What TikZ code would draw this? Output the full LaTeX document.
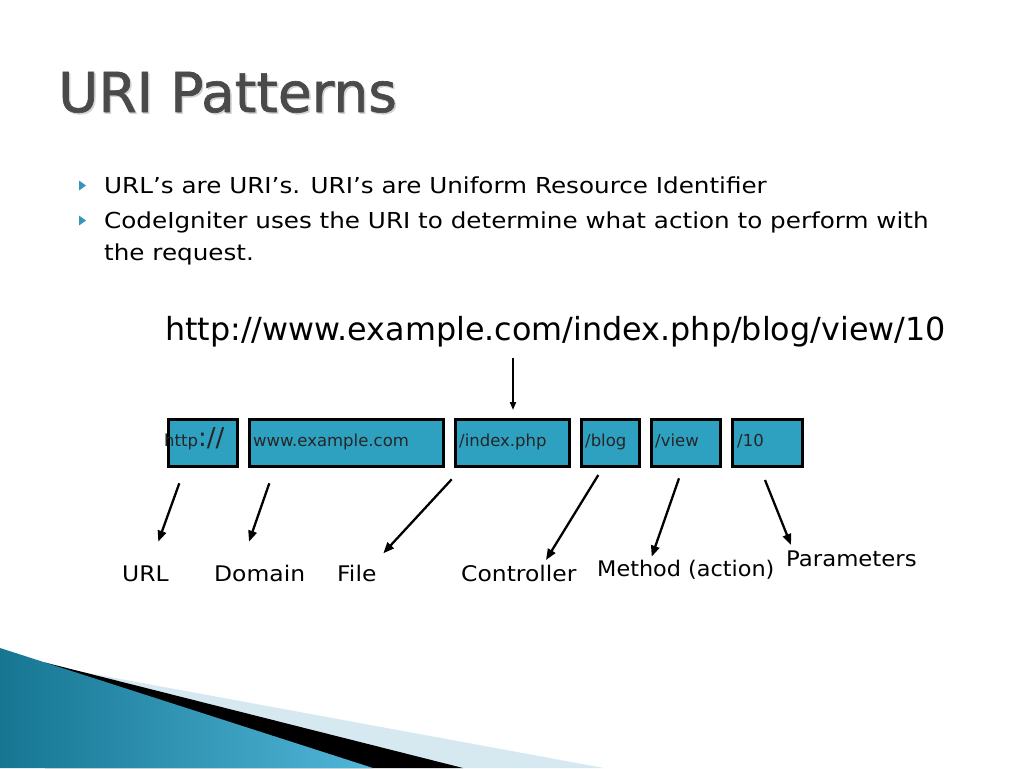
\documentclass[tikz,border=0pt]{standalone}
\usepackage{fontspec}
\setmainfont{DejaVu Sans}
\newfontfamily\titlefont{DejaVu Sans}[FakeBold=1.2]
\usepackage{graphicx}
\usetikzlibrary{arrows.meta}
\definecolor{boxblue}{RGB}{46,160,192}
\definecolor{bulletc}{RGB}{52,150,185}
\definecolor{titlec}{RGB}{74,74,74}
\definecolor{wedgedark}{RGB}{22,118,146}
\definecolor{wedgelight}{RGB}{80,182,216}
\definecolor{wedgepale}{RGB}{214,232,240}
\newcommand{\myxs}[2]{\scalebox{#1}[1]{#2}}
\begin{document}
\begin{tikzpicture}[x=1pt,y=-1pt,
  bodytxt/.style={anchor=base west, inner sep=0pt, text=black, font=\fontsize{22}{26}\selectfont},
  segbox/.style={draw=black, line width=3pt, fill=boxblue, inner sep=0pt, anchor=north west, minimum height=47pt},
  segtxt/.style={anchor=base west, inner sep=0pt, text=black!85, font=\fontsize{16.5}{20}\selectfont},
  pointer/.style={line width=2.3pt, -{Triangle[length=11pt,width=8.5pt]}},
  labtxt/.style={anchor=base west, inner sep=0pt, text=black, font=\fontsize{21.5}{26}\selectfont}]
\useasboundingbox (0,0) rectangle (1024,768);
\fill[white] (0,0) rectangle (1024,768);

% bottom-left decoration
\fill[wedgepale] (84,672.3) -- (604,768) -- (84,768) -- cycle;
\fill[black] (45,662.5) -- (463,768) -- (45,768) -- cycle;
\shade[left color=wedgedark, right color=wedgelight] (0,648) -- (373,768) -- (0,768) -- cycle;

% title
\node[anchor=base west, inner sep=0pt, text=white!65!gray, font=\titlefont\fontsize{55}{60}\selectfont] at (59.5,113.5) {URI Patterns};
\node[anchor=base west, inner sep=0pt, text=titlec, font=\titlefont\fontsize{55}{60}\selectfont] (title) at (58,112) {URI Patterns};

% bullets
\fill[bulletc] (79,180.5) -- (86,185.5) -- (79,190.5) -- cycle;
\fill[bulletc] (79,215.5) -- (86,220.5) -- (79,225.5) -- cycle;
\node[bodytxt] (l1) at (104,193) {\myxs{1.12}{URL’s are URI’s. URI’s are Uniform Resource Identifier}};
\node[bodytxt] (l2) at (104,228) {\myxs{1.12}{CodeIgniter uses the URI to determine what action to perform with}};
\node[bodytxt] (l3) at (104,260) {\myxs{1.12}{the request.}};

% URL
\node[anchor=base west, inner sep=0pt, text=black, font=\fontsize{31.8}{36}\selectfont] (url) at (165,340) {http://www.example.com/index.php/blog/view/10};
\coordinate (ds) at (513,358);
\coordinate (de) at (513,410);
\draw[line width=1.8pt, -{Triangle[length=8pt,width=6pt]}] (ds) -- (de);

% segment boxes
\node[segbox, minimum width=69pt] (b1) at (166.5,417.5) {};
\node[segbox, minimum width=194pt] (b2) at (247.5,417.5) {};
\node[segbox, minimum width=114pt] (b3) at (453.5,417.5) {};
\node[segbox, minimum width=58pt] (b4) at (579.5,417.5) {};
\node[segbox, minimum width=69pt] (b5) at (649.5,417.5) {};
\node[segbox, minimum width=70pt] (b6) at (730.5,417.5) {};

\node[segtxt] (t1) at (164,446) {http{\fontsize{26}{28}\selectfont://}};
\node[segtxt] (t2) at (253,446) {www.example.com};
\node[segtxt] (t3) at (459,446) {/index.php};
\node[segtxt] (t4) at (585,446) {/blog};
\node[segtxt] (t5) at (655,446) {/view};
\node[segtxt] (t6) at (737,446) {/10};

% labels
\node[labtxt] (n1) at (122,581.7) {\myxs{1.09}{URL}};
\node[labtxt] (n2) at (214,581.7) {\myxs{1.09}{Domain}};
\node[labtxt] (n3) at (337,581.7) {\myxs{1.09}{File}};
\node[labtxt] (n4) at (461,581.7) {\myxs{1.09}{Controller}};
\node[labtxt] (n5) at (597,576.7) {\myxs{1.04}{Method (action)}};
\node[labtxt] (n6) at (786,566.7) {\myxs{1.06}{Parameters}};

% pointers
\coordinate (s1) at (179.3,483.3); \coordinate (e1) at (158.3,541.7);
\coordinate (s2) at (269.3,483.3); \coordinate (e2) at (249,541.7);
\coordinate (s3) at (451.7,479.3); \coordinate (e3) at (383.3,553.3);
\coordinate (s4) at (598.3,475);   \coordinate (e4) at (546,560);
\coordinate (s5) at (679,478.3);   \coordinate (e5) at (651.7,556.7);
\coordinate (s6) at (765,480);     \coordinate (e6) at (791,545);
\draw[pointer] (s1) -- (e1);
\draw[pointer] (s2) -- (e2);
\draw[pointer] (s3) -- (e3);
\draw[pointer] (s4) -- (e4);
\draw[pointer] (s5) -- (e5);
\draw[pointer] (s6) -- (e6);
\end{tikzpicture}
\end{document}
